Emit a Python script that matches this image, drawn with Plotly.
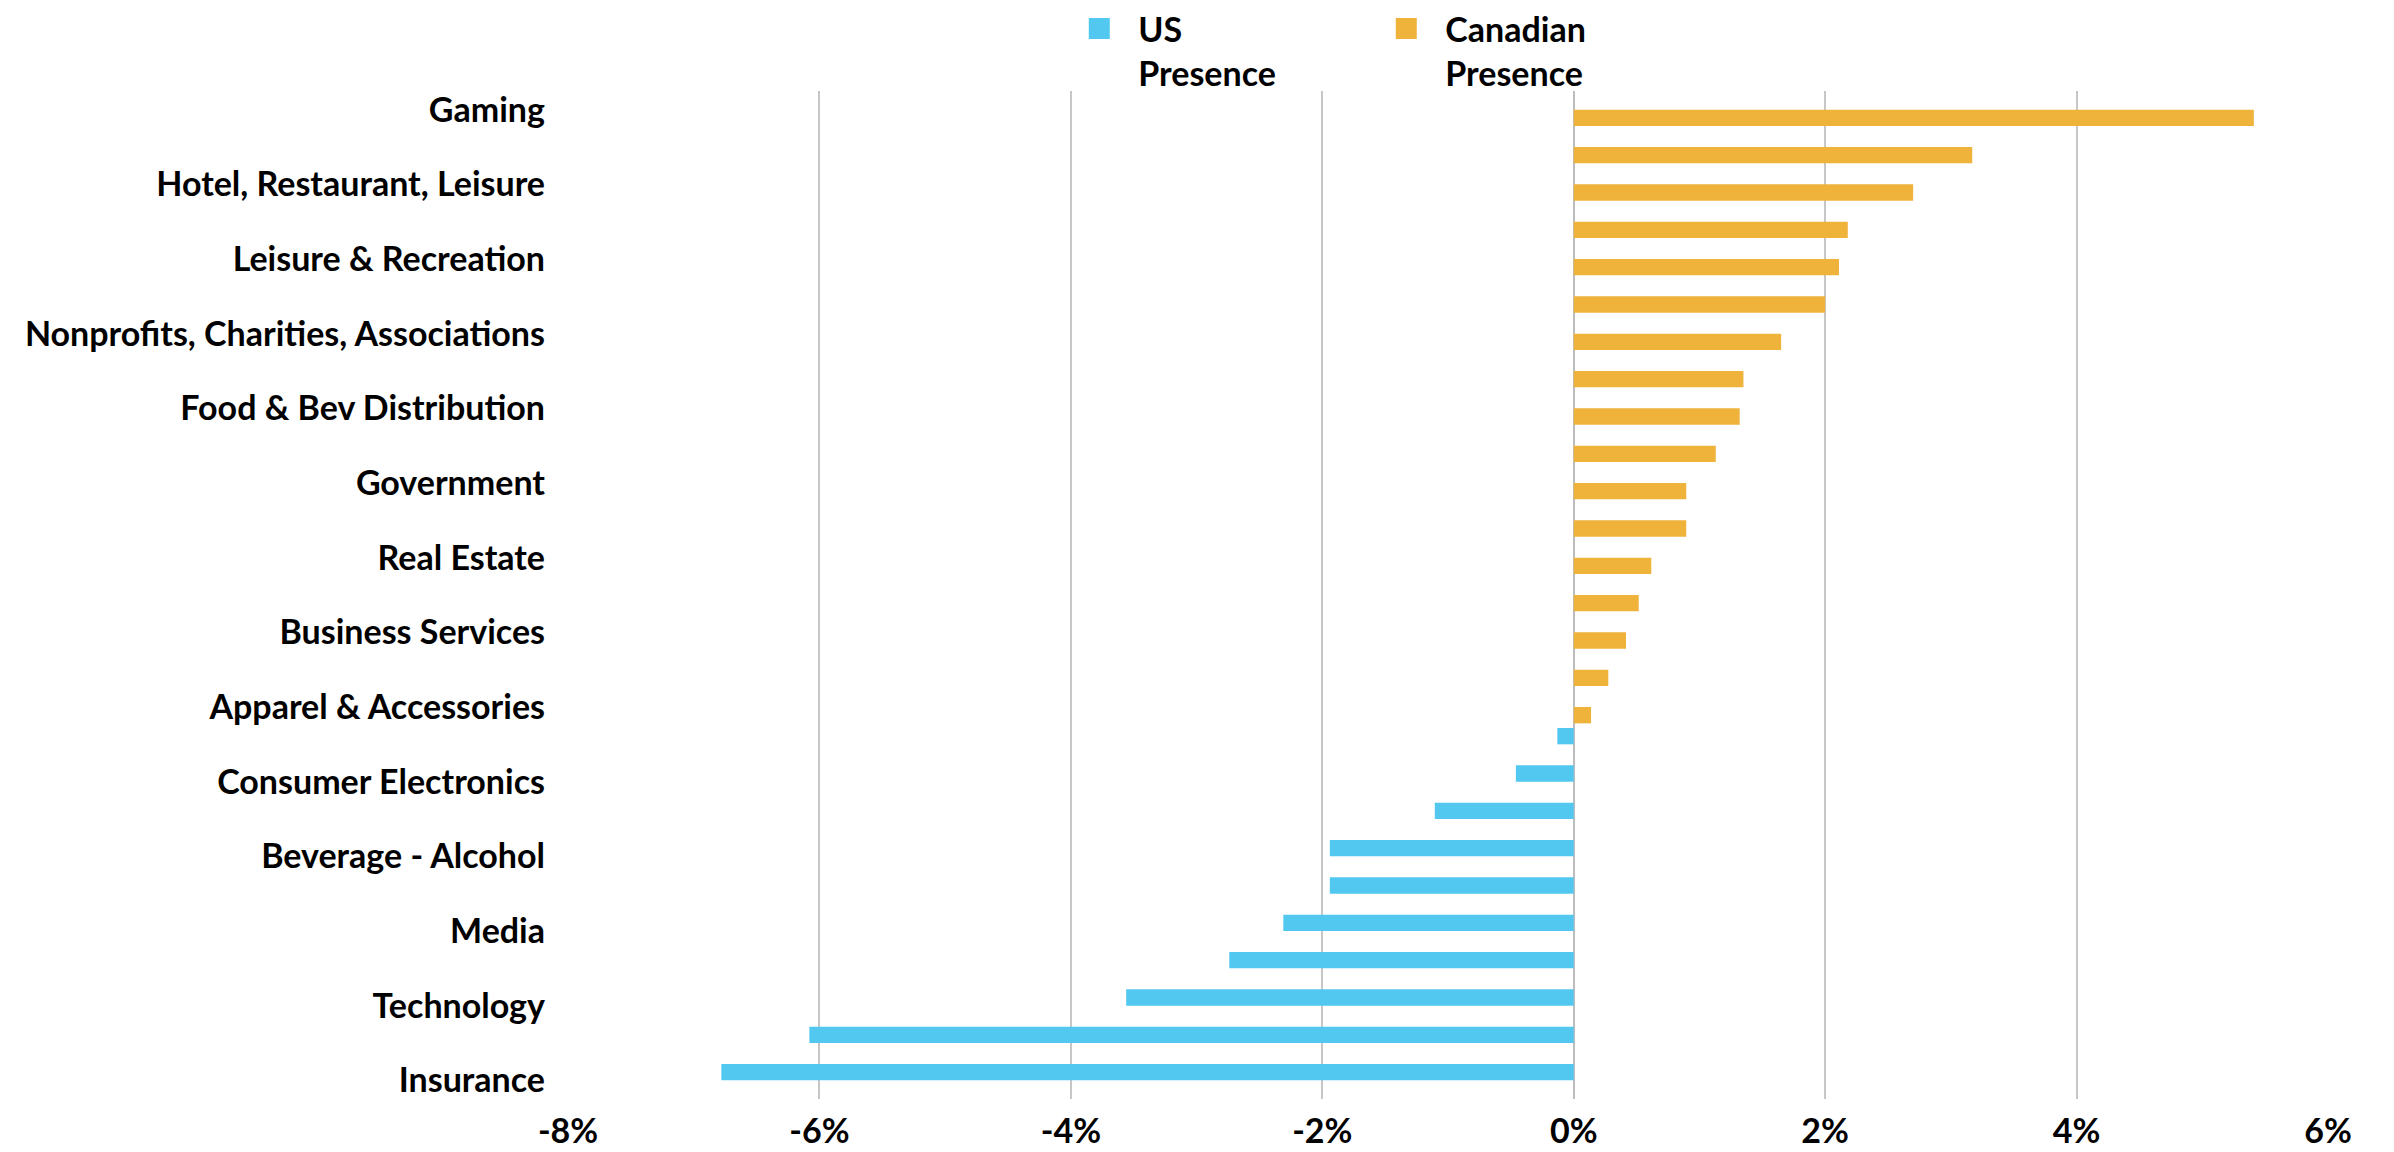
import plotly.graph_objects as go

# Row labels, top to bottom ("" = row whose label is not shown in the reference)
industries = [
    "Gaming", "", "Hotel, Restaurant, Leisure", "", "Leisure & Recreation", "",
    "Nonprofits, Charities, Associations", "", "Food & Bev Distribution", "",
    "Government", "", "Real Estate", "", "Business Services", "",
    "Apparel & Accessories", "", "Consumer Electronics", "", "Beverage - Alcohol", "",
    "Media", "", "Technology", "", "Insurance",
]

# Percent values (None = no bar for that series)
canadian_presence = [5.41, 3.17, 2.70, 2.18, 2.11, 2.00, 1.65, 1.35, 1.32, 1.13,
                     0.895, 0.895, 0.617, 0.517, 0.416, 0.275, 0.138,
                     None, None, None, None, None, None, None, None, None, None]
us_presence = [None, None, None, None, None, None, None, None, None, None,
               None, None, None, None, None, None, None,
               -0.13, -0.46, -1.105, -1.94, -1.94, -2.31, -2.74, -3.56, -6.08, -6.78]

x_tick_values = [-8, -6, -4, -2, 0, 2, 4, 6]
x_tick_labels = ["-8%", "-6%", "-4%", "-2%", "0%", "2%", "4%", "6%"]

series_names = ["US<br>Presence", "Canadian<br>Presence"]
US_COLOR = "#52C8F0"
CA_COLOR = "#EFB23B"
FONT = "Lato, 'Source Sans Pro', 'Noto Sans', sans-serif"
FSIZE = 34

rows = list(range(len(industries)))
label_rows = [r for r, name in zip(rows, industries) if name]
label_text = [name for name in industries if name]

fig = go.Figure()
fig.add_trace(go.Bar(x=us_presence, y=rows, orientation="h", marker_color=US_COLOR,
                     marker_line_width=0, name=series_names[0], showlegend=False,
                     legendgroup="us"))
fig.add_trace(go.Bar(x=canadian_presence, y=rows, orientation="h", marker_color=CA_COLOR,
                     marker_line_width=0, name=series_names[1], showlegend=False,
                     legendgroup="ca"))
# legend entries with larger square symbols
fig.add_trace(go.Scatter(x=[None], y=[None], mode="markers", name=series_names[0],
                         marker=dict(symbol="square", size=16, color=US_COLOR,
                                     line=dict(color=US_COLOR, width=5)),
                         legendgroup="us"))
fig.add_trace(go.Scatter(x=[None], y=[None], mode="markers", name=series_names[1],
                         marker=dict(symbol="square", size=16, color=CA_COLOR,
                                     line=dict(color=CA_COLOR, width=5)),
                         legendgroup="ca"))

fig.update_layout(
    width=2394, height=1152,
    margin=dict(l=568, r=66, t=91, b=53, autoexpand=False),
    paper_bgcolor="white", plot_bgcolor="white",
    barmode="group", bargap=0.124, bargroupgap=0,
    font=dict(family=FONT, size=FSIZE, color="#000000", weight="bold"),
    showlegend=True,
    legend=dict(orientation="h", x=0.2797, xanchor="left", y=1.0, yanchor="top",
                yref="container", valign="top", itemwidth=68, entrywidth=224,
                font=dict(family=FONT, size=FSIZE, color="#000000", weight="bold"),
                bgcolor="rgba(0,0,0,0)", tracegroupgap=0, borderwidth=0),
    xaxis=dict(range=[-8, 6], tickvals=x_tick_values, ticktext=x_tick_labels,
               automargin=False,
               showgrid=True, gridcolor="#C6C6C6", gridwidth=1.5,
               zeroline=True, zerolinecolor="#BDBDBD", zerolinewidth=2,
               showline=False, ticks="", ticklabelstandoff=9,
               tickfont=dict(family=FONT, size=FSIZE, color="#000000", weight="bold")),
    yaxis=dict(range=[len(industries) - 0.5, -0.5], tickvals=label_rows, ticktext=label_text,
               automargin=False,
               showgrid=False, zeroline=False, showline=False, ticks="",
               ticklabelstandoff=22,
               tickfont=dict(family=FONT, size=FSIZE, color="#000000", weight="bold")),
)

fig.write_html("out.html")
